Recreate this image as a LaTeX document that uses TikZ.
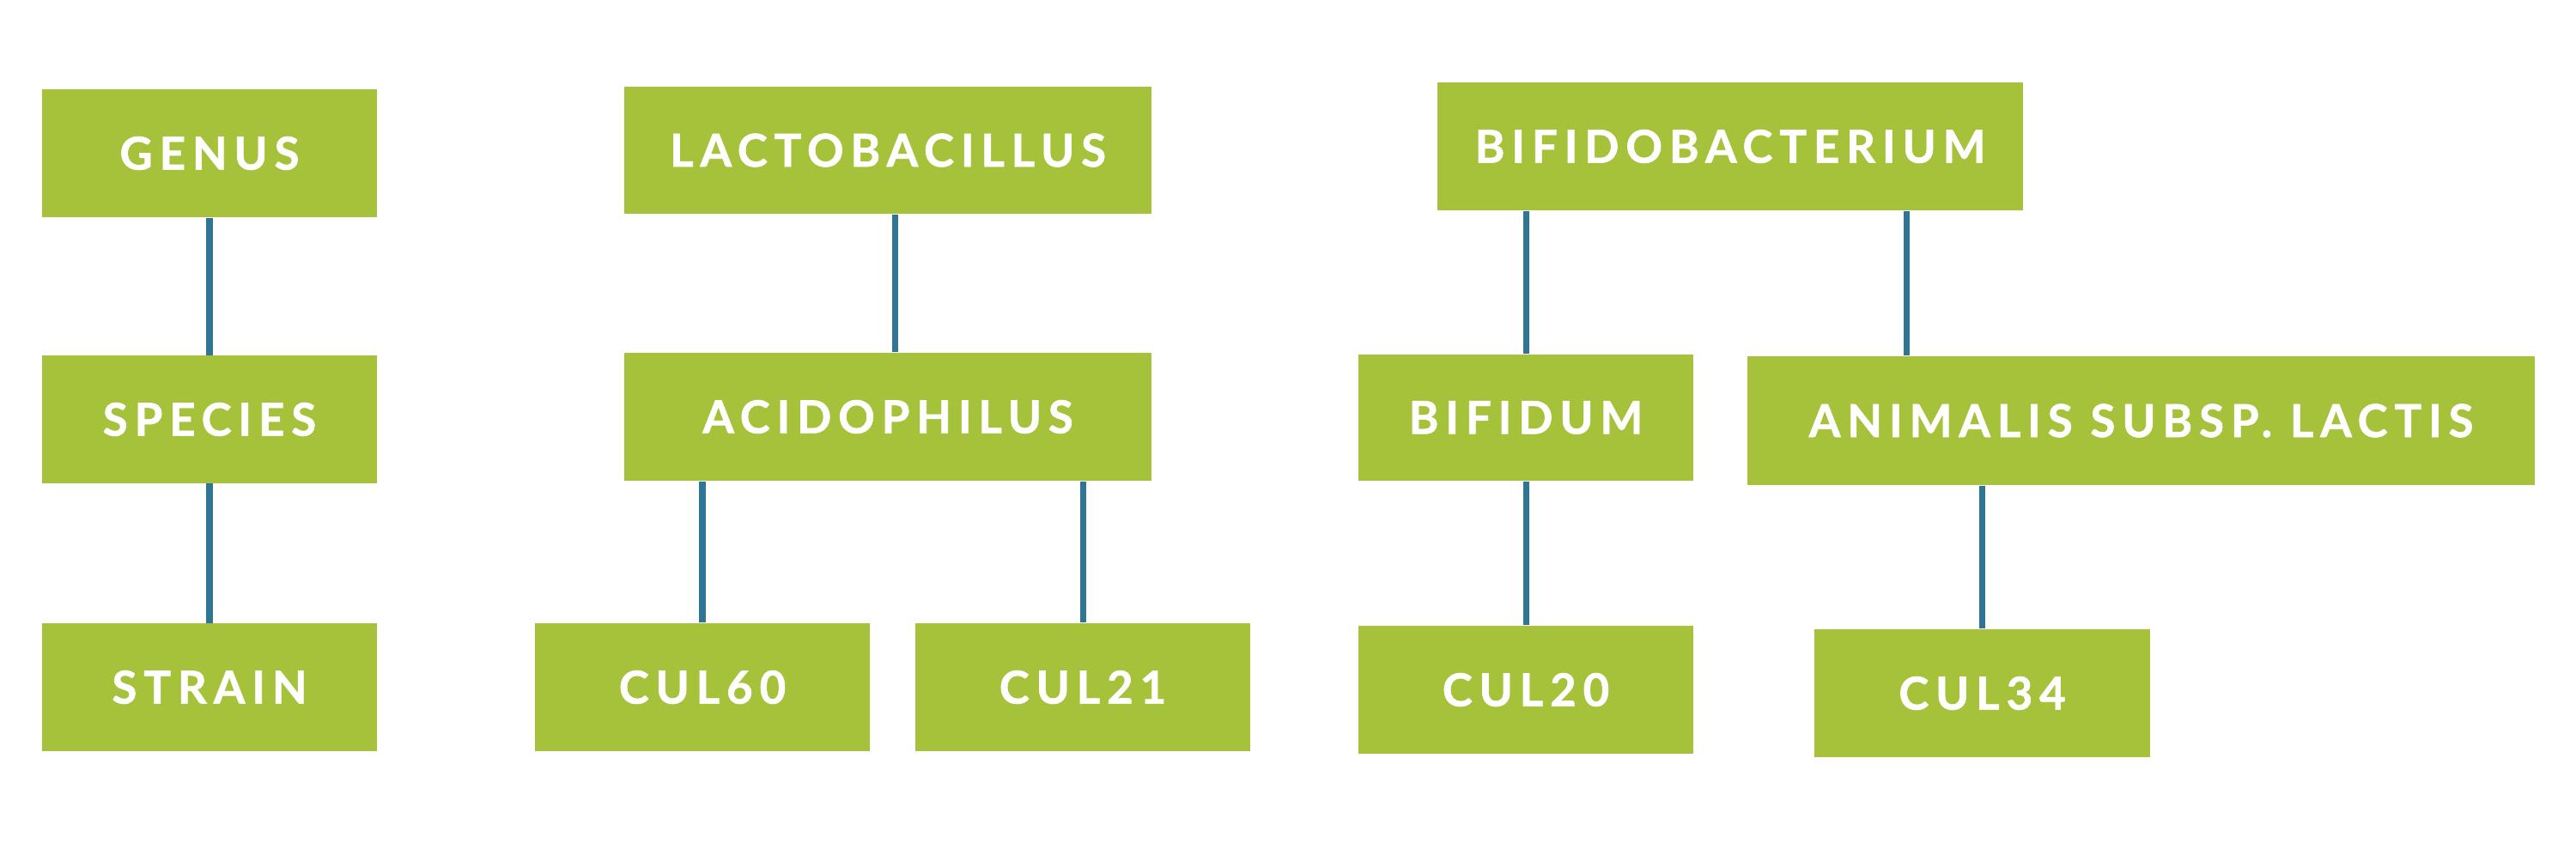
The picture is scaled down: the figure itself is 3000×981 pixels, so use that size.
\documentclass[tikz,border=0pt]{standalone}
\usepackage{fontspec}
\setmainfont{Lato}[LetterSpace=15, BoldFeatures={FakeBold=1.2}]
\definecolor{boxgreen}{HTML}{A6C23A}
\definecolor{linkblue}{HTML}{2F7694}
\begin{document}
\begin{tikzpicture}[x=0.01cm,y=-0.01cm,
  taxbox/.style={fill=boxgreen, draw=none, minimum height=1.48cm, inner sep=0pt,
     text=white, font=\fontsize{15}{18}\selectfont\bfseries},
  link/.style={draw=linkblue, line width=2pt}]
\useasboundingbox[fill=white] (0,0) rectangle (3000,981);
% left column
\node[taxbox, minimum width=3.9cm, minimum height=1.49cm] (genus) at (244,178.5) {GENUS};
\node[taxbox, minimum width=3.9cm] (species) at (244,488.5) {SPECIES};
\node[taxbox, minimum width=3.9cm] (strain) at (244,800.5) {STRAIN};
% lactobacillus
\node[taxbox, minimum width=6.14cm] (lacto) at (1034,175) {LACTOBACILLUS};
\node[taxbox, minimum width=6.14cm, minimum height=1.49cm] (acid) at (1034,485.5) {ACIDOPHILUS};
\node[taxbox, minimum width=3.9cm, minimum height=1.49cm] (cul60) at (818,800.5) {CUL60};
\node[taxbox, minimum width=3.9cm, minimum height=1.49cm] (cul21) at (1261,800.5) {CUL21};
% bifidobacterium
\node[taxbox, minimum width=6.82cm, minimum height=1.49cm] (bifido) at (2015,170.5) {BIFIDOBACTERIUM};
\node[taxbox, minimum width=3.9cm, minimum height=1.47cm] (bifidum) at (1777,486.5) {BIFIDUM};
\node[taxbox, minimum width=9.17cm, minimum height=1.50cm] (animalis) at (2493.5,490) {ANIMALIS SUBSP. LACTIS};
\node[taxbox, minimum width=3.9cm, minimum height=1.49cm] (cul20) at (1777,803.5) {CUL20};
\node[taxbox, minimum width=3.9cm, minimum height=1.49cm] (cul34) at (2308.5,807.5) {CUL34};
% connectors
\draw[link] (genus.south) -- (species.north);
\draw[link] (species.south) -- (strain.north);
\draw[link] ([xshift=0.08cm]lacto.south) -- ([xshift=0.08cm]acid.north);
\draw[link] (cul60.north |- acid.south) -- (cul60.north);
\draw[link] (cul21.north |- acid.south) -- (cul21.north);
\draw[link] (bifidum.north |- bifido.south) -- (bifidum.north);
\draw[link] ([xshift=2.05cm]bifido.south) -- ([xshift=2.05cm]bifido.south |- animalis.north);
\draw[link] (bifidum.south) -- (cul20.north);
\draw[link] (cul34.north |- animalis.south) -- (cul34.north);
\end{tikzpicture}
\end{document}
